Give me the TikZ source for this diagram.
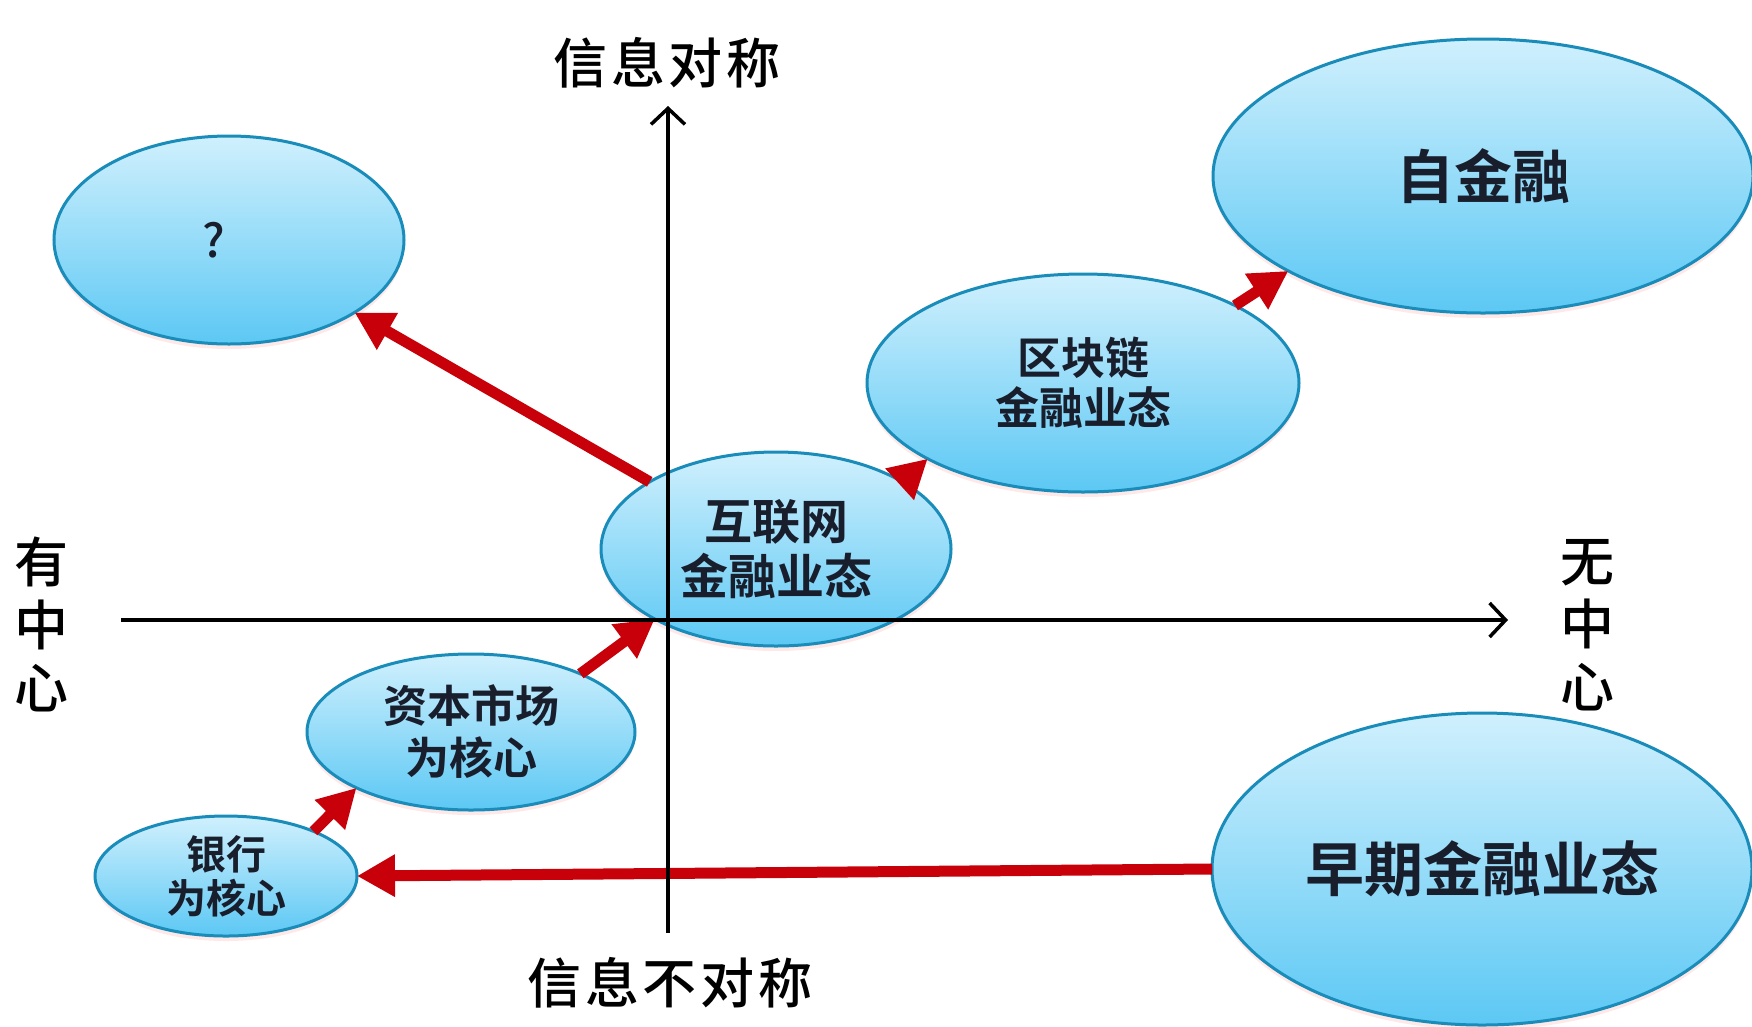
\documentclass[tikz,border=0pt]{standalone}
\usepackage{fontspec}
\setmainfont{Noto Sans CJK SC}[BoldFont={Noto Sans CJK SC Bold}]
\newfontfamily\medfont{Noto Sans CJK SC Medium}
\usetikzlibrary{shapes.geometric,arrows.meta,shadows}
\definecolor{bubline}{RGB}{25,140,185}
\definecolor{bubtop}{RGB}{208,240,253}
\definecolor{bubbot}{RGB}{92,200,244}
\definecolor{txt}{RGB}{25,30,45}
\definecolor{arrred}{RGB}{200,0,10}
\tikzset{
  bub/.style={ellipse, draw=bubline, line width=3pt, top color=bubtop, bottom color=bubbot,
    inner sep=0pt, outer sep=0pt, align=center, text=txt,
    drop shadow={shadow xshift=0pt, shadow yshift=-5pt, fill=red!35!white, opacity=0.25}},
  redarr/.style={draw=arrred, line width=11pt, -{Triangle[length=38pt,width=40pt]}},
  axisline/.style={draw=black, line width=4pt, -{Straight Barb[length=16pt,width=34pt,line width=3.5pt]}},
  axlab/.style={inner sep=0pt, align=center, text=black}
}
\begin{document}
\begin{tikzpicture}[x=1pt,y=-1pt]
\useasboundingbox (0,0) rectangle (1752,1026);
\fill[white] (0,0) rectangle (1752,1026);

% bubbles
\node[bub, minimum width=350pt, minimum height=208pt, font=\fontsize{46}{46}\medfont] (q) at (229,240) {\hspace*{-30pt}?};
\node[bub, minimum width=540pt, minimum height=274pt, font=\fontsize{58}{60}\selectfont\bfseries] (zi) at (1483,176) {自金融};
\node[bub, minimum width=432pt, minimum height=218pt, font=\fontsize{44}{50}\selectfont\bfseries] (qk) at (1083,383) {区块链\\金融业态};
\node[bub, minimum width=350pt, minimum height=194pt, font=\fontsize{48}{55}\selectfont\bfseries] (hl) at (776,549) {互联网\\金融业态};
\node[bub, minimum width=328pt, minimum height=156pt, font=\fontsize{44}{52}\selectfont\bfseries] (zb) at (471,732) {资本市场\\为核心};
\node[bub, minimum width=262pt, minimum height=120pt, font=\fontsize{40}{44}\selectfont\bfseries] (yh) at (226,876) {银行\\为核心};
\node[bub, minimum width=540pt, minimum height=312pt, font=\fontsize{59}{60}\selectfont\bfseries] (zq) at (1482,869) {早期金融业态};

% red arrows
\draw[redarr] (hl.152) -- (q.-30);
\draw[redarr] (hl.28) -- (qk.206);
\draw[redarr] (qk.27) -- (zi.206);
\draw[redarr] (zb.28) -- (hl.210);
\draw[redarr] (yh.27) -- (zb.206);
\draw[redarr] (zq.180) -- (yh.0);

% axes
\coordinate (vtop) at (668,106);
\coordinate (vbot) at (668,933);
\coordinate (hlft) at (121,620);
\coordinate (hrgt) at (1508,620);
\draw[axisline] (vbot) -- (vtop);
\draw[axisline] (hlft) -- (hrgt);

% axis labels
\node[axlab, font=\fontsize{54}{60}\medfont\addfontfeature{LetterSpace=7}] (top) at (667,63) {信息对称};
\node[axlab, font=\fontsize{54}{60}\medfont\addfontfeature{LetterSpace=7}] (bot) at (670,983) {信息不对称};
\node[axlab, font=\fontsize{54}{63}\medfont] (lft) at (41,624) {有\\中\\心};
\node[axlab, font=\fontsize{54}{63}\medfont] (rgt) at (1587,625) {无\\中\\心};
\end{tikzpicture}
\end{document}
